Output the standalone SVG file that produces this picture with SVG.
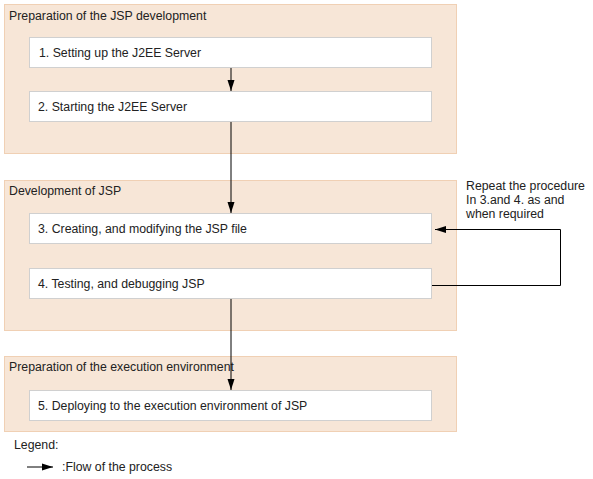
<svg xmlns="http://www.w3.org/2000/svg" width="593" height="479" viewBox="0 0 593 479">
<style>
.grp{fill:#f7e6d7;stroke:#f0d0b4;stroke-width:1}
.box{fill:#fff;stroke:#d0d0d0;stroke-width:1}
text{font-family:"Liberation Sans",Arial,sans-serif;font-size:12.3px;fill:#222}
.ln{stroke:#000;stroke-width:1;fill:none}
</style>
<defs>
<marker id="ah" markerWidth="11" markerHeight="8" refX="11" refY="4" orient="auto" markerUnits="userSpaceOnUse">
<path d="M0,0.5 L11,4 L0,7.5 Z" fill="#000"/>
</marker>
</defs>
<g id="group1"><rect class="grp" x="4.5" y="4.5" width="452" height="149"/><text x="9" y="20">Preparation of the JSP development</text></g>
<g id="group2"><rect class="grp" x="4.5" y="180.5" width="452" height="150"/><text x="9" y="195">Development of JSP</text></g>
<g id="group3"><rect class="grp" x="4.5" y="356.5" width="452" height="75"/><text x="9" y="371">Preparation of the execution environment</text></g>
<g id="node1"><rect class="box" x="29.5" y="37.5" width="402" height="30"/><text x="39" y="57">1. Setting up the J2EE Server</text></g>
<g id="node2"><rect class="box" x="29.5" y="91.5" width="402" height="30"/><text x="38" y="111">2. Starting the J2EE Server</text></g>
<g id="node3"><rect class="box" x="29.5" y="213.5" width="402" height="30"/><text x="38" y="233">3. Creating, and modifying the JSP file</text></g>
<g id="node4"><rect class="box" x="29.5" y="268.5" width="402" height="30"/><text x="38" y="288">4. Testing, and debugging JSP</text></g>
<g id="node5"><rect class="box" x="29.5" y="390.5" width="402" height="30"/><text x="38" y="410">5. Deploying to the execution environment of JSP</text></g>
<g id="connectors">
<line class="ln" x1="231" y1="68" x2="231" y2="91" marker-end="url(#ah)"/>
<line class="ln" x1="231" y1="122" x2="231" y2="213" marker-end="url(#ah)"/>
<line class="ln" x1="231" y1="299" x2="231" y2="390" marker-end="url(#ah)"/>
<polyline class="ln" points="432,285.5 560.5,285.5 560.5,229.5 435,229.5" marker-end="url(#ah)"/>
</g>
<g id="note"><text x="466" y="190">Repeat the procedure</text><text x="466" y="204">In 3.and 4. as and</text><text x="466" y="218">when required</text></g>
<g id="legend">
<text x="14" y="449">Legend:</text>
<line class="ln" x1="27" y1="467" x2="53" y2="467" marker-end="url(#ah)"/>
<text x="62" y="471">:Flow of the process</text>
</g>
</svg>
